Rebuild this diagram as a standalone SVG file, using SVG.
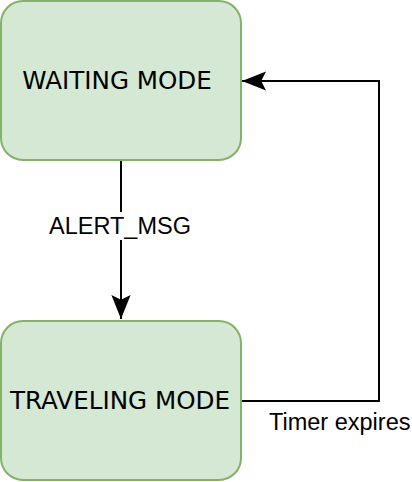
<svg xmlns="http://www.w3.org/2000/svg" width="412" height="482" viewBox="0 0 412 482">
<style>
.node{fill:#d5e8d4;stroke:#82b366;stroke-width:2}
.ntext{font-family:"DejaVu Sans",Verdana,sans-serif;font-size:24.6px;fill:#000;text-anchor:middle}
.edge{fill:none;stroke:#000;stroke-width:2}
.lbl{font-family:"Liberation Sans",Arial,sans-serif;font-size:23.5px;fill:#000}
</style>
<defs>
<marker id="arr" markerUnits="userSpaceOnUse" markerWidth="24" markerHeight="20" viewBox="0 0 20 16" refX="20" refY="8" orient="auto">
<path d="M20,8 L0,0 L4,8 L0,16 Z" fill="#000"/>
</marker>
</defs>
<g id="connectors">
<g id="edge-alert">
<path class="edge" d="M121,161 L121,319" marker-end="url(#arr)"/>
<rect x="44" y="212" width="154" height="28" fill="#fff"/>
<text class="lbl" x="120" y="234" text-anchor="middle">ALERT_MSG</text>
</g>
<g id="edge-timer">
<path class="edge" d="M241,401 L379,401 L379,81 L242,81" marker-end="url(#arr)"/>
<text class="lbl" x="269" y="430">Timer expires</text>
</g>
</g>
<g id="waiting">
<rect class="node" x="1" y="1" width="240" height="159" rx="22" ry="22"/>
<text class="ntext" x="117" y="89">WAITING MODE</text>
</g>
<g id="traveling">
<rect class="node" x="1" y="321" width="240" height="159" rx="22" ry="22"/>
<text class="ntext" x="120" y="409">TRAVELING MODE</text>
</g>
</svg>
